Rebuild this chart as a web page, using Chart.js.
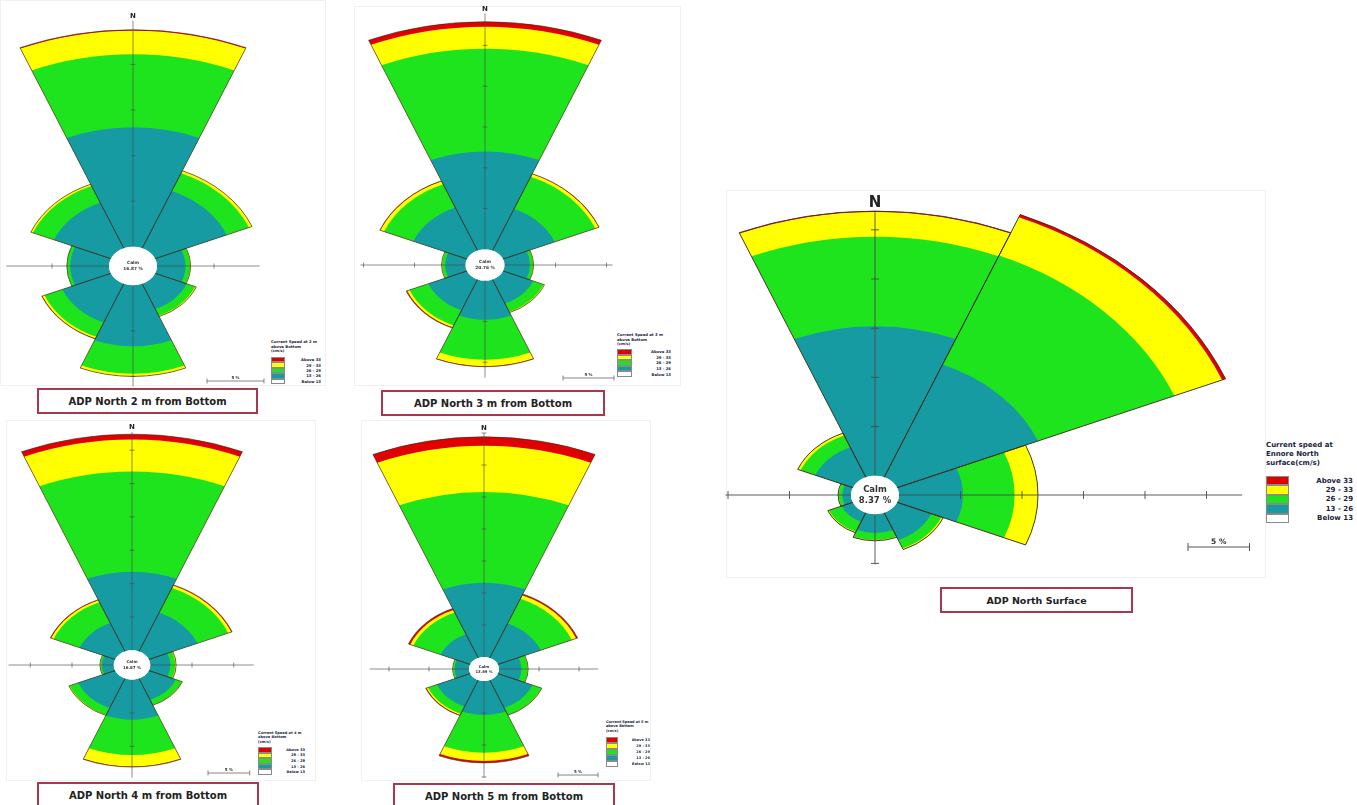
<!DOCTYPE html>
<html>
<head>
<meta charset="utf-8">
<script src="https://cdn.jsdelivr.net/npm/chart.js@4.4.1/dist/chart.umd.min.js"></script>
<style>
  body { margin:0; width:1357px; height:805px; overflow:hidden; position:relative; background:#fff; font-family:"DejaVu Sans", sans-serif; }
  .panel { position:absolute; border:1px solid #f1f1f1; background:#fff; box-sizing:border-box; }
  canvas { position:absolute; }
  .ttl { position:absolute; border:2px solid #a8394d; background:#fff; box-sizing:border-box; font-weight:bold; color:#222;
         display:flex; align-items:center; justify-content:center; white-space:nowrap; }
  .legend { position:absolute; font-weight:bold; color:#1b2340; white-space:nowrap; }
  .legend .row { display:flex; justify-content:space-between; align-items:center; }
  .legend .sw { display:block; height:100%; box-sizing:border-box; border:0.5px solid #8a8a8a; }
</style>
</head>
<body>
<script>
// directions of the 8 sectors, clockwise from north
var directions = ['N', 'NE', 'E', 'SE', 'S', 'SW', 'W', 'NW'];
// speed classes (cm/s), outermost first as in the legend
var speedBins = ['Above 33', '29 - 33', '26 - 29', '13 - 26', 'Below 13'];

// ADP North 2 m from bottom (% of records)
var m2_below13 = [0, 0, 0, 0, 0, 0, 0, 0];
var m2_13to26  = [13.1, 6.8, 2.5, 3.0, 6.7, 4.6, 3.4, 5.4];
var m2_26to29  = [8.0, 2.1, 0.4, 0.8, 3.0, 1.7, 0.3, 2.0];
var m2_29to33  = [2.6, 0.3, 0.05, 0.1, 0.3, 0.2, 0, 0.2];
var m2_above33 = [0.1, 0, 0, 0, 0, 0.05, 0, 0];
var m2_calm = '16.87 %';

// ADP North 3 m from bottom
var m3_below13 = [0, 0, 0, 0, 0, 0, 0, 0];
var m3_13to26  = [12.0, 5.5, 2.5, 3.2, 4.8, 4.1, 2.0, 5.7];
var m3_26to29  = [12.6, 4.3, 0.3, 1.1, 4.9, 2.0, 0.3, 3.1];
var m3_29to33  = [2.7, 0.35, 0.05, 0.1, 0.8, 0.25, 0.05, 0.4];
var m3_above33 = [0.6, 0.05, 0, 0, 0.05, 0.1, 0, 0.05];
var m3_calm = '20.76 %';

// ADP North 4 m from bottom
var m4_below13 = [0, 0, 0, 0, 0, 0, 0, 0];
var m4_13to26  = [11.8, 6.3, 2.4, 3.5, 6.0, 4.8, 1.4, 4.6];
var m4_26to29  = [15.0, 4.0, 0.6, 0.8, 5.3, 1.1, 0.2, 3.4];
var m4_29to33  = [4.8, 0.4, 0.1, 0.05, 1.7, 0.1, 0.05, 0.3];
var m4_above33 = [0.8, 0.1, 0, 0, 0.1, 0, 0, 0.1];
var m4_calm = '16.87 %';

// ADP North 5 m from bottom
var m5_below13 = [0, 0, 0, 0, 0, 0, 0, 0];
var m5_13to26  = [11.6, 5.8, 2.8, 4.7, 5.3, 4.5, 1.8, 4.0];
var m5_26to29  = [14.2, 4.2, 0.8, 1.2, 5.9, 1.2, 0.2, 3.7];
var m5_29to33  = [7.2, 0.6, 0.05, 0.05, 1.3, 0.2, 0.05, 0.4];
var m5_above33 = [1.4, 0.2, 0, 0, 0.3, 0.1, 0, 0.25];
var m5_calm = '13.89 %';

// ADP North surface
var surf_below13 = [0, 0, 0, 0, 0, 0, 0, 0];
var surf_13to26  = [15.2, 12.4, 5.2, 3.0, 1.9, 1.0, 0.7, 3.3];
var surf_26to29  = [9.1, 12.0, 4.2, 0.9, 0.7, 1.1, 0.3, 1.3];
var surf_29to33  = [2.5, 4.2, 1.9, 0.15, 0.1, 0.1, 0.05, 0.25];
var surf_above33 = [0.1, 0.3, 0, 0, 0, 0, 0, 0];
var surf_calm = '8.37 %';

// colours, same order as speedBins
var binColors = ['#e00000', '#ffff00', '#1ee41e', '#179ba3', '#ffffff'];

var roses = [
  { id:'m2', title:'ADP North 2 m from Bottom', calm:m2_calm,
    bins:[m2_below13, m2_13to26, m2_26to29, m2_29to33, m2_above33],
    cx:133, cy:266, hw:133, hh:266, ppp:11.4, calmR:24, axes:[24.8, 9.0, 11.1, 9.0],
    nFont:7, calmFont:4.3, tick:2.5, line:0.7, bar:{x:207, y:381, font:4},
    panel:[0, 0, 326, 386], box:[37, 388, 221, 26, 10],
    legend:{x:271, y:340, w:50, font:3.8, lh:4.6, boxTop:357, boxW:14, boxH:5.4,
            lines:['Current Speed at 2 m', 'above Bottom', '(cm/s)']} },
  { id:'m3', title:'ADP North 3 m from Bottom', calm:m3_calm,
    bins:[m3_below13, m3_13to26, m3_26to29, m3_29to33, m3_above33],
    cx:485, cy:265, hw:136, hh:265, ppp:10.2, calmR:19.5, axes:[28.9, 10.6, 11.9, 10.3],
    nFont:7, calmFont:4.3, tick:2.5, line:0.7, bar:{x:563, y:378, font:4},
    panel:[354, 6, 327, 380], box:[381, 390, 224, 26, 10],
    legend:{x:617, y:333, w:54, font:3.8, lh:4.6, boxTop:349, boxW:15, boxH:5.6,
            lines:['Current Speed at 3 m', 'above Bottom', '(cm/s)']} },
  { id:'m4', title:'ADP North 4 m from Bottom', calm:m4_calm,
    bins:[m4_below13, m4_13to26, m4_26to29, m4_29to33, m4_above33],
    cx:132, cy:665, hw:130, hh:250, ppp:8.34, calmR:18.3, axes:[32.7, 12.4, 14.7, 12.6],
    nFont:7, calmFont:4, tick:2.5, line:0.7, bar:{x:208, y:773, font:4},
    panel:[6, 420, 310, 361], box:[37, 782, 222, 26, 10],
    legend:{x:258, y:731, w:47, font:3.6, lh:4.4, boxTop:747, boxW:14, boxH:5.6,
            lines:['Current Speed at 4 m', 'above Bottom', '(cm/s)']} },
  { id:'m5', title:'ADP North 5 m from Bottom', calm:m5_calm,
    bins:[m5_below13, m5_13to26, m5_26to29, m5_29to33, m5_above33],
    cx:484, cy:669, hw:125, hh:250, ppp:8.0, calmR:15, axes:[35, 12.4, 15.1, 12.4],
    nFont:7, calmFont:3.8, tick:2.5, line:0.7, bar:{x:558, y:775, font:4},
    panel:[361, 420, 290, 361], box:[393, 783, 222, 26, 10],
    legend:{x:606, y:720, w:44, font:3.5, lh:4.3, boxTop:737, boxW:12, boxH:6,
            lines:['Current Speed at 5 m', 'above Bottom', '(cm/s)']} },
  { id:'surf', title:'ADP North Surface', calm:surf_calm,
    bins:[surf_below13, surf_13to26, surf_26to29, surf_29to33, surf_above33],
    cx:875, cy:495, hw:380, hh:310, ppp:12.3, calmR:24, axes:[26.8, 27.9, 5.1, 10.2],
    nFont:15, calmFont:8.5, tick:4, line:1, bar:{x:1188, y:547, font:7.5},
    panel:[726, 190, 540, 388], box:[940, 587, 193, 26, 9.5],
    legend:{x:1266, y:441, w:87, font:7, lh:9, boxTop:476, boxW:23, boxH:9.4,
            lines:['Current speed at', 'Ennore North', 'surface(cm/s)']} }
];

var squash = 0.8;

function rosePlugin(cfg) {
  return {
    id: 'rose_' + cfg.id,
    beforeDraw: function(chart) {
      var ctx = chart.ctx, sc = chart.scales.r;
      ctx.save();
      ctx.translate(0, sc.yCenter);
      ctx.scale(1, squash);
      ctx.translate(0, -sc.yCenter);
    },
    afterDatasetsDraw: function(chart) {
      var ctx = chart.ctx, sc = chart.scales.r, x0 = sc.xCenter, y0 = sc.yCenter;
      var d = function(v) { return sc.getDistanceFromCenterForValue(v); };
      var unit = [[0, -1], [1, 0], [0, 1], [-1, 0]];
      ctx.save();
      ctx.strokeStyle = '#4a4a4a';
      ctx.lineWidth = cfg.line;
      unit.forEach(function(u, j) {
        var ext = cfg.axes[j];
        ctx.beginPath();
        ctx.moveTo(x0, y0);
        ctx.lineTo(x0 + u[0] * d(ext), y0 + u[1] * d(ext));
        ctx.stroke();
        for (var t = 5; t <= ext; t += 5) {
          var px = x0 + u[0] * d(t), py = y0 + u[1] * d(t);
          ctx.beginPath();
          if (u[0] === 0) { ctx.moveTo(px - cfg.tick, py); ctx.lineTo(px + cfg.tick, py); }
          else { ctx.moveTo(px, py - cfg.tick / squash); ctx.lineTo(px, py + cfg.tick / squash); }
          ctx.stroke();
        }
      });
      // calm circle
      ctx.beginPath();
      ctx.arc(x0, y0, d(0), 0, Math.PI * 2);
      ctx.fillStyle = '#fff';
      ctx.fill();
      ctx.restore();
    },
    afterDraw: function(chart) {
      var ctx = chart.ctx, sc = chart.scales.r, x0 = sc.xCenter, y0 = sc.yCenter;
      ctx.restore(); // end of the squashed drawing
      var d = function(v) { return sc.getDistanceFromCenterForValue(v); };
      ctx.save();
      ctx.fillStyle = '#222';
      ctx.textAlign = 'center';
      ctx.textBaseline = 'bottom';
      ctx.font = 'bold ' + cfg.nFont + 'px "DejaVu Sans"';
      ctx.fillText('N', x0, y0 - squash * d(cfg.axes[0]) - 1);
      ctx.fillStyle = '#333';
      ctx.textBaseline = 'middle';
      ctx.font = 'bold ' + cfg.calmFont + 'px "DejaVu Sans"';
      ctx.fillText('Calm', x0, y0 - cfg.calmFont * 0.65);
      ctx.fillText(cfg.calm, x0, y0 + cfg.calmFont * 0.7);
      // 5 % scale bar
      var bx = cfg.bar.x - (cfg.cx - cfg.hw), by = cfg.bar.y - (cfg.cy - cfg.hh);
      var len = d(5) - d(0);
      ctx.strokeStyle = '#555';
      ctx.lineWidth = cfg.line;
      ctx.beginPath();
      ctx.moveTo(bx, by); ctx.lineTo(bx + len, by);
      ctx.moveTo(bx, by - cfg.tick); ctx.lineTo(bx, by + cfg.tick);
      ctx.moveTo(bx + len, by - cfg.tick); ctx.lineTo(bx + len, by + cfg.tick);
      ctx.stroke();
      ctx.textBaseline = 'bottom';
      ctx.font = 'bold ' + cfg.bar.font + 'px "DejaVu Sans"';
      ctx.fillText('5 %', bx + len / 2, by - 1);
      ctx.restore();
    }
  };
}

function addPanel(p) {
  var el = document.createElement('div');
  el.className = 'panel';
  el.style.left = p[0] + 'px'; el.style.top = p[1] + 'px';
  el.style.width = p[2] + 'px'; el.style.height = p[3] + 'px';
  document.body.appendChild(el);
}

function addTitle(b, text) {
  var el = document.createElement('div');
  el.className = 'ttl';
  el.style.left = b[0] + 'px'; el.style.top = b[1] + 'px';
  el.style.width = b[2] + 'px'; el.style.height = b[3] + 'px';
  el.style.fontSize = b[4] + 'px';
  el.textContent = text;
  document.body.appendChild(el);
}

function addLegend(L) {
  var el = document.createElement('div');
  el.className = 'legend';
  el.style.left = L.x + 'px'; el.style.top = L.y + 'px'; el.style.width = L.w + 'px';
  el.style.fontSize = L.font + 'px'; el.style.lineHeight = L.lh + 'px';
  el.innerHTML = L.lines.map(function(s) { return '<div>' + s + '</div>'; }).join('');
  document.body.appendChild(el);
  var rows = document.createElement('div');
  rows.className = 'legend';
  rows.style.left = L.x + 'px'; rows.style.top = L.boxTop + 'px'; rows.style.width = L.w + 'px';
  rows.style.fontSize = L.font + 'px';
  speedBins.forEach(function(lbl, i) {
    var r = document.createElement('div');
    r.className = 'row';
    r.style.height = L.boxH + 'px';
    r.innerHTML = '<span class="sw" style="width:' + L.boxW + 'px;background:' + binColors[i] + '"></span><span>' + lbl + '</span>';
    rows.appendChild(r);
  });
  document.body.appendChild(rows);
}

function makeRose(cfg) {
  addPanel(cfg.panel);
  addTitle(cfg.box, cfg.title);
  addLegend(cfg.legend);

  var cv = document.createElement('canvas');
  cv.width = 2 * cfg.hw; cv.height = 2 * cfg.hh;
  cv.style.left = (cfg.cx - cfg.hw) + 'px';
  cv.style.top = (cfg.cy - cfg.hh) + 'px';
  document.body.appendChild(cv);

  // cumulative totals, inner class first
  var run = directions.map(function() { return 0; });
  var cum = cfg.bins.map(function(arr) {
    run = run.map(function(v, i) { return v + arr[i]; });
    return run.slice();
  });
  var fills = binColors.slice().reverse(); // inner -> outer
  var datasets = [{
    data: cum[cum.length - 1], backgroundColor: 'rgba(0,0,0,0)',
    borderColor: '#3a2e25', borderWidth: cfg.line, clip: false
  }];
  cum.forEach(function(vals, i) {
    datasets.push({ data: vals, backgroundColor: fills[i], borderWidth: 0, clip: false });
  });

  var area = Math.min(cfg.hw, cfg.hh);
  var rMin = -cfg.calmR / cfg.ppp;
  new Chart(cv, {
    type: 'polarArea',
    data: { labels: directions, datasets: datasets },
    options: {
      responsive: false,
      animation: false,
      events: [],
      layout: { padding: 0 },
      plugins: { legend: { display: false }, tooltip: { enabled: false } },
      scales: {
        r: {
          display: false,
          min: rMin,
          max: rMin + area / cfg.ppp,
          startAngle: -22.5,
          ticks: { display: false }
        }
      }
    },
    plugins: [rosePlugin(cfg)]
  });
}

roses.forEach(makeRose);
</script>
</body>
</html>
